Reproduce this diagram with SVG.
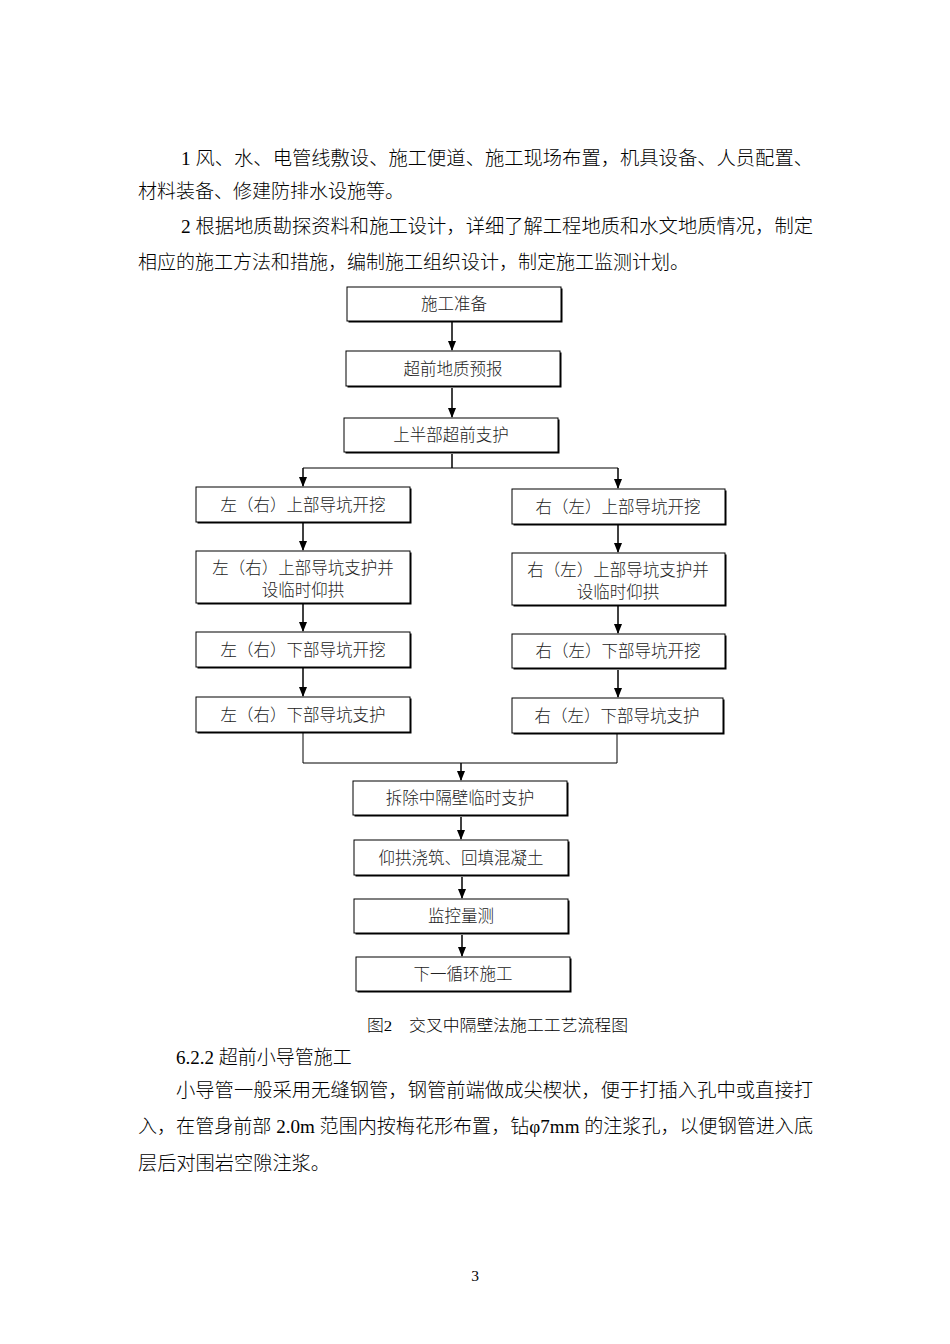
<svg xmlns="http://www.w3.org/2000/svg" width="950" height="1344" viewBox="0 0 950 1344">
<style>
.body{font-family:"Liberation Serif","Noto Sans CJK SC",serif;font-size:19px;font-weight:300;fill:#000}
.cap{font-family:"Liberation Serif","Noto Sans CJK SC",serif;font-size:15.5px;font-weight:300;fill:#000}
.bt{font-family:"Liberation Sans","Noto Sans CJK SC",sans-serif;font-size:16.5px;font-weight:300;fill:#222;text-anchor:middle}
.sh{fill:#000}
.bx{fill:#fff;stroke:#000;stroke-width:1}
.ln{fill:none;stroke:#000;stroke-width:1.5}
.ln1{fill:none;stroke:#000;stroke-width:1}
</style>
<defs>
<marker id="ah" markerWidth="10" markerHeight="10" refX="9" refY="5" orient="auto" markerUnits="userSpaceOnUse">
<path d="M0,1 L10,5 L0,9 Z" fill="#000"/>
</marker>
</defs>
<rect width="950" height="1344" fill="#fff"/>

<g id="text-top">
<text class="body" x="181" y="165" textLength="632" lengthAdjust="spacingAndGlyphs">1 风、水、电管线敷设、施工便道、施工现场布置，机具设备、人员配置、</text>
<text class="body" x="138" y="198">材料装备、修建防排水设施等。</text>
<text class="body" x="181" y="233" textLength="632" lengthAdjust="spacingAndGlyphs">2 根据地质勘探资料和施工设计，详细了解工程地质和水文地质情况，制定</text>
<text class="body" x="138" y="269">相应的施工方法和措施，编制施工组织设计，制定施工监测计划。</text>
</g>

<g id="connectors">
<line class="ln" x1="452" y1="322" x2="452" y2="350" marker-end="url(#ah)"/>
<line class="ln" x1="452" y1="388" x2="452" y2="417" marker-end="url(#ah)"/>
<polyline class="ln" points="452,454 452,468"/>
<polyline class="ln1" points="303,468 618,468"/>
<line class="ln" x1="303" y1="468" x2="303" y2="486" marker-end="url(#ah)"/>
<line class="ln" x1="618" y1="468" x2="618" y2="488" marker-end="url(#ah)"/>
<line class="ln" x1="303" y1="523" x2="303" y2="550" marker-end="url(#ah)"/>
<line class="ln" x1="618" y1="525" x2="618" y2="552" marker-end="url(#ah)"/>
<line class="ln" x1="303" y1="604" x2="303" y2="631" marker-end="url(#ah)"/>
<line class="ln" x1="618" y1="606" x2="618" y2="633" marker-end="url(#ah)"/>
<line class="ln" x1="303" y1="668" x2="303" y2="696" marker-end="url(#ah)"/>
<line class="ln" x1="618" y1="670" x2="618" y2="697" marker-end="url(#ah)"/>
<polyline class="ln1" points="303,733 303,763 617,763 617,734"/>
<line class="ln" x1="461" y1="763" x2="461" y2="780" marker-end="url(#ah)"/>
<line class="ln" x1="461" y1="817" x2="461" y2="839" marker-end="url(#ah)"/>
<line class="ln" x1="462" y1="877" x2="462" y2="898" marker-end="url(#ah)"/>
<line class="ln" x1="462" y1="935" x2="462" y2="956" marker-end="url(#ah)"/>
</g>

<g id="n1"><rect class="sh" x="348.5" y="288.5" width="214" height="34"/><rect class="bx" x="347" y="287" width="214" height="34"/><text class="bt" x="454" y="310">施工准备</text></g>
<g id="n2"><rect class="sh" x="347.5" y="352.5" width="214" height="35"/><rect class="bx" x="346" y="351" width="214" height="35"/><text class="bt" x="453" y="375">超前地质预报</text></g>
<g id="n3"><rect class="sh" x="345.5" y="419.5" width="214" height="34"/><rect class="bx" x="344" y="418" width="214" height="34"/><text class="bt" x="451" y="441">上半部超前支护</text></g>

<g id="l1"><rect class="sh" x="197.5" y="488.5" width="214" height="35"/><rect class="bx" x="196" y="487" width="214" height="35"/><text class="bt" x="303" y="511">左（右）上部导坑开挖</text></g>
<g id="l2"><rect class="sh" x="197.5" y="552.5" width="214" height="52"/><rect class="bx" x="196" y="551" width="214" height="52"/><text class="bt" x="303" y="574">左（右）上部导坑支护并</text><text class="bt" x="303" y="596">设临时仰拱</text></g>
<g id="l3"><rect class="sh" x="197.5" y="633.5" width="214" height="35"/><rect class="bx" x="196" y="632" width="214" height="35"/><text class="bt" x="303" y="656">左（右）下部导坑开挖</text></g>
<g id="l4"><rect class="sh" x="197.5" y="698.5" width="214" height="35"/><rect class="bx" x="196" y="697" width="214" height="35"/><text class="bt" x="303" y="721">左（右）下部导坑支护</text></g>

<g id="r1"><rect class="sh" x="513.5" y="490.5" width="213" height="35"/><rect class="bx" x="512" y="489" width="213" height="35"/><text class="bt" x="618" y="513">右（左）上部导坑开挖</text></g>
<g id="r2"><rect class="sh" x="513.5" y="554.5" width="213" height="52"/><rect class="bx" x="512" y="553" width="213" height="52"/><text class="bt" x="618" y="576">右（左）上部导坑支护并</text><text class="bt" x="618" y="598">设临时仰拱</text></g>
<g id="r3"><rect class="sh" x="513.5" y="635.5" width="213" height="34"/><rect class="bx" x="512" y="634" width="213" height="34"/><text class="bt" x="618" y="657">右（左）下部导坑开挖</text></g>
<g id="r4"><rect class="sh" x="513.5" y="699.5" width="211" height="35"/><rect class="bx" x="512" y="698" width="211" height="35"/><text class="bt" x="617" y="722">右（左）下部导坑支护</text></g>

<g id="m1"><rect class="sh" x="354.5" y="782.5" width="214" height="34"/><rect class="bx" x="353" y="781" width="214" height="34"/><text class="bt" x="460" y="804">拆除中隔壁临时支护</text></g>
<g id="m2"><rect class="sh" x="355.5" y="841.5" width="214" height="35"/><rect class="bx" x="354" y="840" width="214" height="35"/><text class="bt" x="461" y="864">仰拱浇筑、回填混凝土</text></g>
<g id="m3"><rect class="sh" x="355.5" y="900.5" width="214" height="34"/><rect class="bx" x="354" y="899" width="214" height="34"/><text class="bt" x="461" y="922">监控量测</text></g>
<g id="m4"><rect class="sh" x="357.5" y="958.5" width="214" height="34"/><rect class="bx" x="356" y="957" width="214" height="34"/><text class="bt" x="463" y="980">下一循环施工</text></g>

<g id="text-bottom">
<text class="cap" x="367" y="1031" textLength="261" lengthAdjust="spacingAndGlyphs">图2　交叉中隔壁法施工工艺流程图</text>
<text class="body" x="176" y="1064">6.2.2 超前小导管施工</text>
<text class="body" x="176" y="1097" textLength="637" lengthAdjust="spacingAndGlyphs">小导管一般采用无缝钢管，钢管前端做成尖楔状，便于打插入孔中或直接打</text>
<text class="body" x="138" y="1133" textLength="675" lengthAdjust="spacingAndGlyphs">入，在管身前部 2.0m 范围内按梅花形布置，钻φ7mm 的注浆孔，以便钢管进入底</text>
<text class="body" x="138" y="1170" textLength="192" lengthAdjust="spacingAndGlyphs">层后对围岩空隙注浆。</text>
<text class="cap" x="475" y="1281" text-anchor="middle" font-size="13">3</text>
</g>
</svg>
